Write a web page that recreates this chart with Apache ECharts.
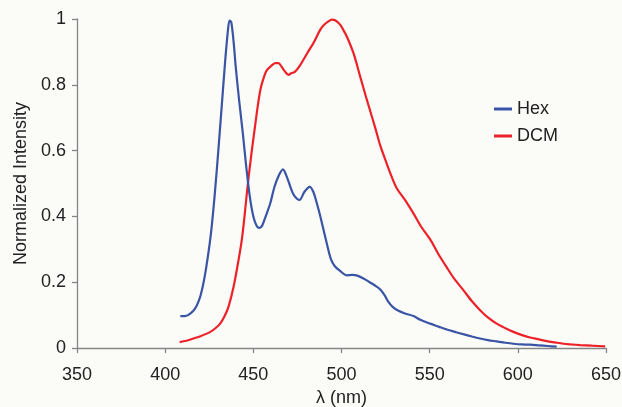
<!DOCTYPE html>
<html>
<head>
<meta charset="utf-8">
<script src="https://cdn.jsdelivr.net/npm/echarts@6/dist/echarts.min.js"></script>
<style>
html,body{margin:0;padding:0;background:#fbfbf8;}
#chart{width:622px;height:407px;}
</style>
</head>
<body>
<div id="chart"></div>
<script>
var xTicks = [350, 400, 450, 500, 550, 600, 650];
var yTicks = [0, 0.2, 0.4, 0.6, 0.8, 1];

var hexNm = [408.6,411,413,416,418,420,422,424,426,428,430,432,434,435.5,436.5,437.5,439,440,442,444,446,448,450,452,453.5,455,457,459.6,462,464.5,466.8,469,471,473,476.2,479,482,484,486,488,490,492,494,496,499,503,506,509,513,516,519,522,524.5,526.6,529,532.3,536,540.8,545,550.3,555,559.7,565,569,574,578.6,583,588,593,597.5,602,607,612,617,622];
var hexVal = [0.097,0.097,0.100,0.113,0.13,0.158,0.205,0.27,0.35,0.46,0.59,0.73,0.87,0.96,0.995,0.99,0.92,0.855,0.75,0.655,0.55,0.46,0.40,0.37,0.365,0.372,0.40,0.44,0.49,0.525,0.543,0.52,0.49,0.465,0.45,0.475,0.49,0.475,0.44,0.40,0.355,0.31,0.27,0.25,0.235,0.221,0.222,0.220,0.210,0.200,0.19,0.178,0.16,0.14,0.125,0.113,0.105,0.097,0.085,0.074,0.065,0.056,0.048,0.042,0.035,0.029,0.024,0.02,0.016,0.013,0.011,0.01,0.008,0.006,0.004];

var dcmNm = [408.2,412,416,420,425.6,428.5,431.2,433.5,435.9,438.8,441.6,443.5,445,446.5,448,449.5,451,452.5,454,455.5,457.5,460,462.4,464.3,466,468,469.9,471.5,473.7,476,478.4,481,484.1,487.9,490,492.6,494.5,496.4,499.2,501,503,506.8,510.6,514.4,519.1,522,525.7,528.5,531.4,536,540.8,545,550.3,555,559.7,564,569.1,574,578.6,583,588,593,597.5,602,606.9,612,616.4,621,625.8,630,635.3,642,649.5];
var dcmVal = [0.018,0.022,0.029,0.036,0.049,0.06,0.074,0.095,0.125,0.186,0.267,0.33,0.40,0.48,0.55,0.615,0.675,0.735,0.785,0.815,0.843,0.857,0.866,0.866,0.855,0.84,0.83,0.835,0.84,0.855,0.876,0.90,0.927,0.967,0.982,0.993,0.998,0.996,0.983,0.967,0.947,0.896,0.825,0.754,0.67,0.615,0.56,0.52,0.485,0.45,0.409,0.37,0.33,0.285,0.245,0.21,0.176,0.142,0.115,0.093,0.074,0.06,0.049,0.04,0.032,0.026,0.021,0.017,0.013,0.011,0.009,0.007,0.005];

function pairs(xs, ys){ return xs.map(function(x,i){ return [x, ys[i]]; }); }

var chart = echarts.init(document.getElementById('chart'));
var font = 'Liberation Sans, Arial, sans-serif';
var axisCol = '#858585';
chart.setOption({
  backgroundColor: '#fbfbf8',
  animation: false,
  textStyle: {fontFamily: font},
  grid: {left: 77, right: 16, top: 19, bottom: 59, containLabel: false, outerBoundsMode: 'none'},
  legend: {
    left: 494, top: 100, orient: 'vertical', itemWidth: 18, itemHeight: 3, itemGap: 9,
    icon: 'rect', padding: 0,
    textStyle: {fontSize: 18, color: '#222', fontFamily: font},
    data: ['Hex', 'DCM']
  },
  xAxis: {
    type: 'value', min: xTicks[0], max: xTicks[xTicks.length-1], interval: 50,
    name: 'λ (nm)', nameLocation: 'middle', nameGap: 38,
    nameTextStyle: {fontSize: 18, color: '#222', fontFamily: font},
    axisLine: {lineStyle: {color: axisCol, width: 1.3}},
    axisTick: {show: true, inside: false, length: 5, lineStyle: {color: axisCol, width: 1.3}},
    axisLabel: {fontSize: 18, color: '#222', margin: 18, fontFamily: font},
    splitLine: {show: false}
  },
  yAxis: {
    type: 'value', min: yTicks[0], max: yTicks[yTicks.length-1], interval: 0.2,
    name: 'Normalized Intensity', nameLocation: 'middle', nameGap: 46,
    nameTextStyle: {fontSize: 18, color: '#222', fontFamily: font},
    axisLine: {show: true, lineStyle: {color: axisCol, width: 1.3}},
    axisTick: {show: true, inside: false, length: 5, lineStyle: {color: axisCol, width: 1.3}},
    axisLabel: {fontSize: 18, color: '#222', margin: 11, fontFamily: font},
    splitLine: {show: false}
  },
  series: [
    {name: 'Hex', type: 'line', data: pairs(hexNm, hexVal), showSymbol: false, symbol: 'none', smooth: 0.3,
     lineStyle: {color: '#3a54a6', width: 2.2}, itemStyle: {color: '#3a54a6'}, z: 3},
    {name: 'DCM', type: 'line', data: pairs(dcmNm, dcmVal), showSymbol: false, symbol: 'none', smooth: 0.3,
     lineStyle: {color: '#ec2228', width: 2.2}, itemStyle: {color: '#ec2228'}, z: 2}
  ]
});
</script>
</body>
</html>
